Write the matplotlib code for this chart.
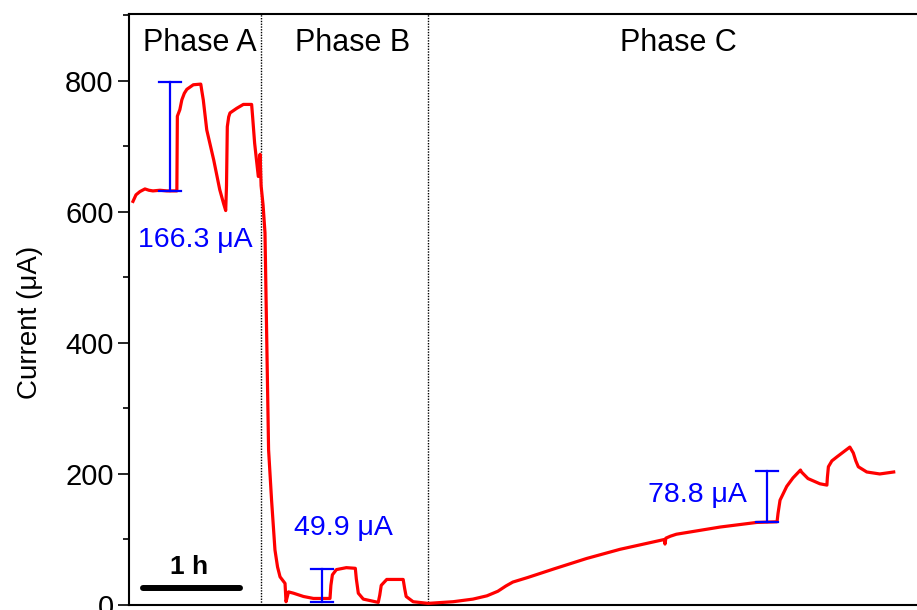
import matplotlib
matplotlib.use("Agg")
import matplotlib.pyplot as plt
from matplotlib.ticker import MultipleLocator

plt.rcParams['font.family'] = ['Liberation Sans', 'DejaVu Sans']

# Current trace (time in hours, current in µA)
time_h = [0.04, 0.07, 0.11, 0.16, 0.20, 0.24, 0.31, 0.38, 0.48, 0.485, 0.50, 0.51, 0.53,
          0.555, 0.58, 0.645, 0.72,
          0.73, 0.745, 0.78, 0.85, 0.91, 0.95, 0.97, 0.978, 0.986, 1.00, 1.013, 1.08,
          1.147, 1.23, 1.24, 1.26, 1.297,
          1.315, 1.325, 1.345, 1.364, 1.38, 1.40, 1.43, 1.464, 1.49, 1.515, 1.565, 1.575,
          1.60, 1.65, 1.75,
          1.85, 2.016, 2.025, 2.04, 2.08, 2.18, 2.27, 2.28, 2.30, 2.35, 2.50, 2.515, 2.53,
          2.585, 2.75, 2.765, 2.78,
          2.85, 3.0, 3.25, 3.45, 3.59, 3.70, 3.78, 3.85, 4.0, 4.26, 4.59, 4.925, 5.37,
          5.376, 5.385, 5.43, 5.49, 5.93,
          6.295, 6.50, 6.51, 6.53, 6.597, 6.66, 6.735, 6.745, 6.81, 6.93, 7.0, 7.005,
          7.015, 7.05, 7.10, 7.23,
          7.265, 7.29, 7.315, 7.40, 7.53, 7.67]
current_uA = [616, 626, 631, 635, 633, 632, 633, 632, 632, 746, 752, 756, 771,
              781, 787, 794, 795,
              785, 771, 725, 679, 634, 612, 602, 640, 730, 745, 751, 758,
              764, 764, 745, 705, 654,
              688, 640, 610, 568, 420, 237, 160, 84, 58, 43, 33, 5,
              20, 18, 13,
              10, 10, 30, 46, 54, 57, 56, 40, 18, 9, 4, 15, 30,
              39, 39, 25, 13,
              5, 2.5, 5, 9, 14, 21, 29, 35, 42, 55, 71, 85, 100,
              93, 102, 105, 108, 119,
              126, 127, 140, 160, 181, 194, 206, 203, 193, 185, 183, 195,
              211, 220, 226, 241,
              232, 220, 211, 203, 200, 203]

# Step annotations: x position (h), baseline (µA), step size (µA)
step_x = [0.41, 1.94, 6.40]
step_base = [632.5, 5.0, 126.0]
step_size = [166.3, 49.9, 78.8]
step_text_xy = [(0.09, 557), (2.15, 118), (6.20, 168)]
step_text_ha = ['left', 'center', 'right']

phase_names = ['Phase A', 'Phase B', 'Phase C']
phase_label_x = [0.71, 2.24, 5.51]
phase_bounds = [1.324, 3.0]

fig = plt.figure(figsize=(9.17, 6.10), dpi=100)
ax = fig.add_axes([129 / 917, 1 - 605 / 610, 797.6 / 917, 591 / 610])

ax.plot(time_h, current_uA, color='#ff0000', lw=2.3, solid_joinstyle='round', zorder=3)

blue = '#0000ff'
for x, b, s, (tx, ty), ha in zip(step_x, step_base, step_size, step_text_xy, step_text_ha):
    ax.plot([x, x], [b, b + s], color=blue, lw=1.6, zorder=4)
    for yy in (b, b + s):
        ax.plot([x - 0.11, x + 0.11], [yy, yy], color=blue, lw=1.6, zorder=4)
    ax.text(tx, ty, f'{s:.1f} \u03bcA', color=blue, fontsize=20.5, ha=ha, va='center')

for xb in phase_bounds:
    ax.axvline(xb, color='black', lw=1.0, ls=(0, (1, 1)), zorder=2)

for name, px in zip(phase_names, phase_label_x):
    ax.text(px, 857, name, fontsize=22, ha='center', va='center')

# 1 h scale bar
ax.plot([0.14, 1.11], [26.5, 26.5], color='black', lw=4.3, solid_capstyle='round', zorder=4)
ax.text(0.6, 58, '1 h', fontsize=19, fontweight='bold', ha='center', va='center')

ax.set_xlim(0, 8)
ax.set_ylim(0, 902)
ax.yaxis.set_major_locator(MultipleLocator(200))
ax.yaxis.set_minor_locator(MultipleLocator(100))
ax.xaxis.set_major_locator(MultipleLocator(1))
ax.tick_params(axis='y', which='major', direction='out', length=8, width=1.2, labelsize=21, pad=3)
ax.tick_params(axis='y', which='minor', direction='out', length=4.5, width=1.2)
ax.tick_params(axis='x', which='major', direction='inout', length=2, width=1.5,
               top=True, labelbottom=False)
ax.set_ylabel('Current (\u03bcA)', fontsize=20)
ax.yaxis.set_label_coords(-0.108, 0.479)
for sp in ax.spines.values():
    sp.set_linewidth(1.5)

fig.savefig('out.png', dpi=100)
